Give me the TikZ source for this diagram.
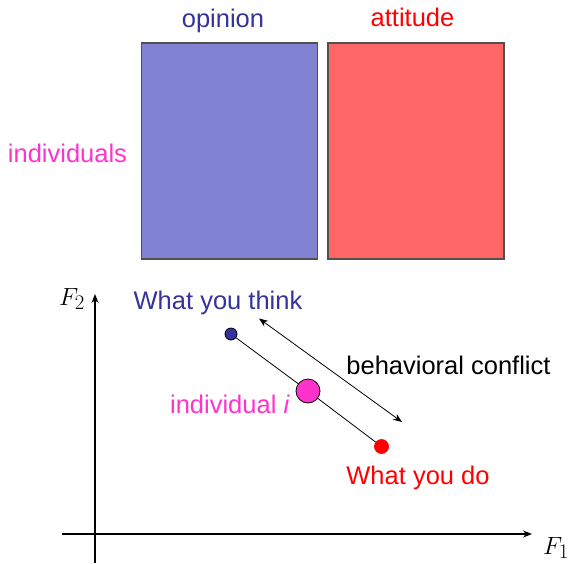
\documentclass[tikz,border=0pt]{standalone}
\usepackage{fontspec}
\setmainfont{Liberation Sans}
\usetikzlibrary{arrows.meta}
\definecolor{navy}{RGB}{51,51,153}
\definecolor{opfill}{RGB}{130,130,210}
\definecolor{atfill}{RGB}{255,102,102}
\definecolor{mag}{RGB}{255,51,204}
\definecolor{rimgray}{RGB}{80,80,80}
\tikzset{
  lbl/.style={font=\fontsize{25.5}{29}\selectfont, inner sep=0pt, anchor=base},
  blockbox/.style={draw=rimgray, line width=1.2pt, minimum width=176pt, minimum height=216pt, inner sep=0pt},
  dot/.style={circle, draw=black, line width=0.8pt, inner sep=0pt},
  axislbl/.style={font=\fontsize{30}{34}\selectfont, inner sep=0pt},
  tip/.style={-{Stealth[length=9pt,width=7pt]}},
}
\begin{document}
\begin{tikzpicture}[x=1pt,y=-1pt]
\useasboundingbox (0,0) rectangle (570,563);
% blocks
\node[blockbox, fill=opfill] (op) at (229.5,151) {};
\node[blockbox, fill=atfill] (at) at (416,151) {};
\node[lbl, text=navy] (optxt) at (223,27) {opinion};
\node[lbl, text=red] (attxt) at (412.5,26) {attitude};
\node[lbl, text=mag] (indtxt) at (67.5,162) {individuals};
% axes
\coordinate (o) at (95,534);
\coordinate (ytop) at (95,294);
\coordinate (ybot) at (95,563);
\coordinate (xleft) at (62,534);
\coordinate (xright) at (532,534);
\draw[line width=1.2pt] (o) -- (ybot);
\draw[line width=1.2pt, tip] (o) -- (ytop);
\draw[line width=1.2pt] (xleft) -- (o);
\draw[line width=1.2pt, tip] (o) -- (xright);
\node[axislbl] (f2) at (72,299) {$F_2$};
\node[axislbl] (f1) at (556,548) {$F_1$};
% points
\node[dot, fill=navy, minimum size=12pt] (think) at (231,334) {};
\node[dot, fill=mag, minimum size=24pt] (ind) at (308,391) {};
\node[dot, draw=red, fill=red, minimum size=14pt] (do) at (381.5,446.5) {};
\draw[line width=0.8pt] (think) -- (ind);
\draw[line width=0.8pt] (ind) -- (do);
% conflict arrow
\coordinate (ca) at (259,318.5);
\coordinate (cb) at (402,422);
\draw[line width=0.8pt, {Stealth[length=9pt,width=7pt]}-{Stealth[length=9pt,width=7pt]}] (ca) -- (cb);
% labels
\node[lbl, text=navy] (thinktxt) at (218,309) {What you think};
\node[lbl, text=black] (conftxt) at (448.5,374) {behavioral conflict};
\node[lbl, text=mag, anchor=base east] (indi) at (290,413) {individual \textit{i}};
\node[lbl, text=red] (dotxt) at (418,484) {What you do};
\end{tikzpicture}
\end{document}
